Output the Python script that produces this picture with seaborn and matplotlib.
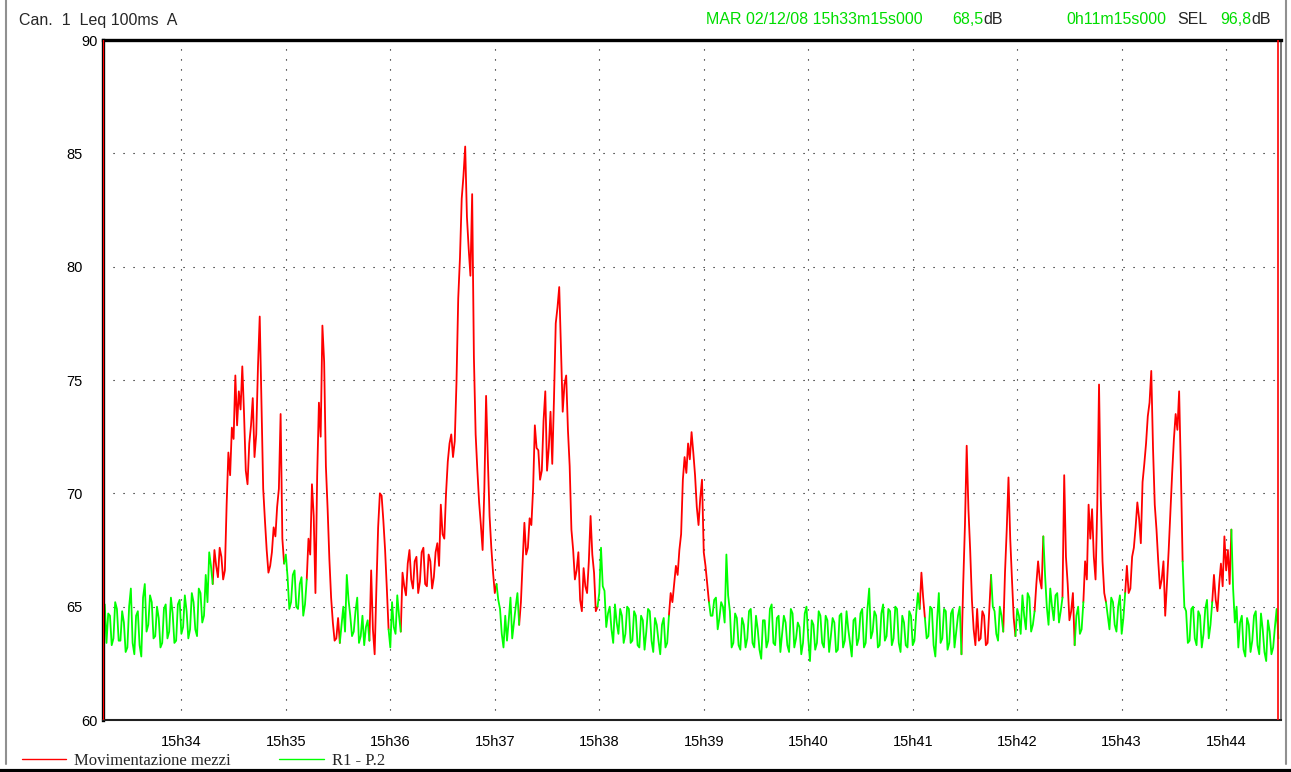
import numpy as np
import pandas as pd
import seaborn as sns
import matplotlib.pyplot as plt
from matplotlib.lines import Line2D
from matplotlib.transforms import ScaledTranslation

# Leq 100ms A in dB, one reading per second.
# lev_HHMM15 holds the even seconds of a minute from HHhMMm15s,
# lev_HHMM16 the odd seconds that fall between them.
lev_3315 = [64.0, 63.4, 64.6, 63.6, 64.9, 63.5, 64.3, 63.2, 65.8, 62.9,
            64.8, 62.8, 66.0, 64.2, 65.2, 63.7, 64.5, 63.4, 65.1, 63.9,
            64.7, 63.5, 65.3, 64.1, 64.8, 64.0, 65.2, 63.7, 65.6, 64.6]
lev_3316 = [65.1, 64.7, 63.3, 65.2, 63.5, 64.8, 63.0, 65.0, 63.4, 64.6,
            63.3, 65.4, 63.9, 65.5, 63.6, 65.0, 63.2, 64.9, 63.6, 65.4,
            63.4, 65.1, 63.8, 65.5, 63.6, 65.6, 64.0, 65.8, 64.3, 66.4]
lev_3415 = [65.2, 66.8, 67.5, 66.3, 67.2, 66.6, 71.8, 72.9, 75.2, 74.5,
            75.6, 71.0, 72.2, 74.2, 72.6, 77.8, 70.2, 67.5, 66.8, 68.5,
            69.4, 73.5, 66.9, 66.3, 65.2, 66.6, 64.9, 66.3, 65.1, 68.0]
lev_3416 = [67.4, 66.0, 66.8, 67.6, 66.2, 69.5, 70.8, 72.4, 73.0, 73.7,
            73.5, 70.4, 73.0, 71.6, 75.6, 74.0, 68.8, 66.5, 67.4, 68.1,
            70.2, 68.0, 67.3, 64.9, 66.4, 65.0, 66.0, 64.6, 66.2, 67.3]
lev_3515 = [70.4, 65.6, 74.0, 77.4, 71.2, 67.1, 64.3, 63.6, 63.4, 65.0,
            66.4, 64.6, 63.9, 65.4, 63.7, 63.3, 64.4, 66.6, 62.9, 68.5,
            69.9, 67.5, 64.0, 65.2, 63.8, 64.6, 66.5, 65.5, 67.5, 65.8]
lev_3516 = [69.0, 70.8, 72.5, 75.8, 69.3, 65.4, 63.5, 64.5, 64.2, 63.9,
            65.3, 63.7, 64.8, 63.4, 64.6, 64.1, 63.5, 64.0, 65.8, 70.0,
            68.8, 65.8, 63.2, 64.1, 65.5, 63.9, 65.9, 66.9, 66.2, 67.0]
lev_3615 = [67.2, 66.1, 67.6, 65.9, 67.0, 66.3, 67.8, 69.5, 68.0, 71.4,
            72.6, 72.3, 78.6, 83.0, 85.3, 80.8, 83.2, 72.6, 69.6, 67.5,
            74.3, 69.0, 66.5, 66.0, 64.9, 63.2, 63.5, 65.4, 64.3, 65.6]
lev_3616 = [65.6, 67.4, 66.0, 67.3, 65.8, 67.4, 66.8, 68.2, 70.0, 72.2,
            71.6, 74.9, 80.4, 84.0, 82.2, 79.6, 76.0, 71.0, 68.6, 70.2,
            71.5, 67.6, 65.6, 65.3, 63.8, 64.6, 64.4, 63.6, 65.0, 64.2]
lev_3715 = [65.2, 68.7, 67.6, 68.6, 73.0, 71.9, 71.0, 74.5, 72.0, 71.3,
            77.5, 79.1, 73.6, 75.2, 71.2, 67.5, 66.6, 65.3, 66.7, 65.6,
            69.0, 66.5, 65.0, 67.6, 65.7, 64.7, 64.0, 65.1, 63.8, 64.6]
lev_3716 = [67.0, 67.3, 68.9, 70.2, 72.0, 70.6, 73.2, 71.0, 73.6, 74.2,
            78.2, 76.4, 74.8, 72.8, 68.4, 66.2, 67.4, 64.8, 65.9, 67.0,
            67.3, 64.8, 65.6, 65.9, 64.1, 65.0, 63.4, 64.3, 64.9, 63.4]
lev_3815 = [63.8, 64.9, 63.5, 64.6, 63.2, 64.4, 63.9, 64.8, 63.0, 64.2,
            62.9, 64.5, 63.4, 65.6, 66.0, 66.4, 68.2, 71.6, 72.2, 72.7,
            70.8, 68.6, 70.6, 66.8, 65.2, 64.6, 65.4, 64.5, 65.0, 67.3]
lev_3816 = [65.0, 63.4, 64.8, 63.3, 64.6, 63.1, 64.9, 63.5, 64.5, 63.5,
            64.2, 63.2, 64.6, 65.2, 66.8, 67.5, 70.6, 70.9, 71.5, 71.8,
            69.4, 69.8, 67.4, 66.0, 64.6, 65.3, 64.0, 65.2, 64.3, 65.5]
lev_3915 = [64.8, 63.4, 64.5, 63.1, 64.2, 63.6, 64.9, 63.2, 64.0, 62.7,
            64.4, 63.5, 65.1, 63.3, 64.6, 63.8, 64.3, 63.0, 64.7, 63.6,
            64.1, 63.4, 65.0, 62.6, 64.2, 63.4, 64.6, 63.2, 64.4, 63.7]
lev_3916 = [63.2, 64.7, 63.3, 64.5, 63.2, 64.8, 63.4, 64.6, 63.1, 64.4,
            63.2, 64.9, 63.4, 64.5, 63.0, 64.6, 63.3, 64.9, 63.2, 64.3,
            62.9, 64.7, 63.6, 64.4, 63.1, 64.8, 63.4, 64.6, 63.0, 64.5]
lev_4015 = [64.3, 63.1, 64.7, 63.5, 64.0, 62.8, 64.5, 63.6, 64.9, 63.4,
            65.8, 63.9, 64.6, 63.3, 65.1, 63.7, 64.8, 63.6, 64.9, 63.0,
            64.3, 63.2, 64.6, 63.5, 65.6, 66.5, 64.5, 63.7, 64.9, 62.8]
lev_4016 = [63.0, 64.6, 63.2, 64.8, 63.4, 64.4, 63.3, 64.7, 63.2, 64.9,
            63.6, 64.8, 63.2, 64.7, 63.5, 64.9, 63.3, 65.0, 63.4, 64.6,
            63.3, 64.8, 63.3, 64.7, 64.9, 65.4, 63.6, 65.0, 63.3, 64.4]
lev_4115 = [65.6, 63.6, 64.8, 63.4, 64.9, 63.9, 65.0, 66.0, 72.1, 67.5,
            64.0, 64.9, 63.6, 64.6, 63.4, 66.4, 64.8, 63.5, 64.6, 66.5,
            70.7, 66.2, 63.7, 64.6, 65.5, 64.0, 65.4, 64.2, 66.0, 66.2]
lev_4116 = [63.4, 64.9, 63.1, 64.7, 63.2, 64.6, 62.9, 68.6, 69.3, 65.3,
            63.3, 63.5, 64.8, 63.3, 64.9, 65.0, 63.8, 65.0, 63.9, 68.4,
            68.0, 64.5, 64.9, 63.8, 64.6, 65.6, 63.9, 64.8, 67.0, 65.8]
lev_4215 = [68.1, 65.0, 65.8, 64.4, 65.6, 64.8, 70.8, 66.0, 64.8, 63.3,
            65.0, 64.0, 67.0, 69.5, 69.3, 66.2, 74.8, 67.0, 65.2, 64.0,
            65.2, 63.9, 65.5, 64.5, 66.8, 65.8, 67.6, 69.6, 67.8, 71.3]
lev_4216 = [66.4, 64.2, 65.0, 65.5, 64.3, 65.4, 67.2, 64.4, 65.6, 64.6,
            63.8, 65.2, 66.2, 68.0, 67.2, 69.5, 69.8, 65.6, 64.6, 65.4,
            64.2, 65.0, 63.8, 65.6, 65.6, 67.2, 68.5, 68.9, 70.5, 72.2]
lev_4315 = [73.4, 75.4, 69.5, 67.0, 66.2, 64.6, 67.5, 70.9, 73.5, 74.5,
            67.0, 64.8, 63.5, 65.0, 63.3, 64.6, 63.8, 65.3, 64.2, 66.4,
            64.8, 66.9, 68.1, 67.5, 68.4, 64.3, 63.2, 64.6, 62.8, 64.2]
lev_4316 = [74.0, 72.0, 68.4, 65.8, 67.0, 66.0, 69.2, 72.4, 72.8, 71.0,
            65.0, 63.4, 64.9, 63.6, 64.8, 63.2, 64.9, 63.6, 65.2, 65.3,
            66.0, 65.9, 66.6, 66.0, 65.8, 65.0, 64.3, 63.1, 64.5, 63.0]
lev_4415 = [63.5, 64.8, 62.9, 64.0, 62.6, 63.9, 63.2, 64.9]
lev_4416 = [64.6, 63.3, 64.7, 63.0, 64.4, 62.9, 64.1, 63.6]

minute_pairs = [(lev_3315, lev_3316), (lev_3415, lev_3416), (lev_3515, lev_3516),
                (lev_3615, lev_3616), (lev_3715, lev_3716), (lev_3815, lev_3816),
                (lev_3915, lev_3916), (lev_4015, lev_4016), (lev_4115, lev_4116),
                (lev_4215, lev_4216), (lev_4315, lev_4316), (lev_4415, lev_4416)]
total_secs = 675  # 0h11m15s

# stretches tagged "Movimentazione mezzi", seconds after 15h33m15s
red_spans = [(63, 105), (117, 137), (153, 165), (171, 227), (239, 285),
             (325, 349), (469, 473), (493, 511), (517, 525), (535, 541),
             (551, 559), (563, 577), (587, 621), (637, 649)]

tick_secs = [45, 105, 165, 225, 285, 345, 405, 465, 525, 585, 645]
tick_names = ["15h34", "15h35", "15h36", "15h37", "15h38", "15h39",
              "15h40", "15h41", "15h42", "15h43", "15h44"]
db_ticks = [60, 65, 70, 75, 80, 85, 90]

SRC_RED = "Movimentazione mezzi"
SRC_GREEN = "R1 - P.2"
RED = "#ff0000"
GREEN = "#00ff00"
TXT_GREEN = "#00dd00"


def build_frame():
    levels = [v for even, odd in minute_pairs for pair in zip(even, odd) for v in pair]
    secs = np.arange(len(levels))
    src = [SRC_RED if any(a < s < b for a, b in red_spans) else SRC_GREEN
           for s in secs]
    rows = []
    seg = 0
    for i, s in enumerate(secs):
        if i > 0 and src[i] != src[i - 1]:
            # start the new colour at the previous reading so the trace stays joined
            seg += 1
            rows.append((secs[i - 1], levels[i - 1], src[i], seg))
        rows.append((s, levels[i], src[i], seg))
    return pd.DataFrame(rows, columns=["sec", "level", "source", "seg"])


df = build_frame()

sns.set_style("white")
plt.rcParams["font.family"] = ["Liberation Sans", "DejaVu Sans"]

W, H = 1291, 772
fig = plt.figure(figsize=(W / 100, H / 100), dpi=100)
ax = fig.add_axes([103 / W, 52 / H, 1178 / W, 680 / H])

sns.lineplot(data=df, x="sec", y="level", hue="source", units="seg",
             estimator=None, sort=False, hue_order=[SRC_RED, SRC_GREEN],
             palette={SRC_RED: RED, SRC_GREEN: GREEN}, lw=1.3, ax=ax)

# cursors at both ends of the record
ax.axvline(0, color=RED, lw=1.6, zorder=5)
ax.axvline(total_secs, color=RED, lw=1.2, zorder=5)

ax.set_xlim(0, total_secs + 1.5)
ax.set_ylim(db_ticks[0], db_ticks[-1])
ax.set_xticks(tick_secs, tick_names)
ax.set_yticks(db_ticks, [str(v) for v in db_ticks])
ax.set_xlabel("")
ax.set_ylabel("")
ax.grid(True, color="black", lw=0.8, linestyle=(0, (1, 8)))
ax.set_axisbelow(True)

ax.tick_params(axis="x", length=3, width=1, color="black", direction="out",
               pad=8, labelsize=10.5, labelcolor="black")
ax.tick_params(axis="y", length=0, pad=4, labelsize=10.5, labelcolor="black")

# middle dB labels sit further from the frame than the end ones
shift = ScaledTranslation(-0.15, 0, fig.dpi_scale_trans)
for tick in ax.yaxis.get_major_ticks()[1:-1]:
    tick.label1.set_transform(tick.label1.get_transform() + shift)

for side in ["top", "left"]:
    ax.spines[side].set_color("black")
    ax.spines[side].set_linewidth(2.4)
ax.spines["bottom"].set_color("#202020")
ax.spines["bottom"].set_linewidth(1.5)
ax.spines["right"].set_color("#606060")
ax.spines["right"].set_linewidth(1.2)

sns.move_legend(ax, "lower left", bbox_to_anchor=(22 / W, 3 / H),
                bbox_transform=fig.transFigure, ncol=2, title="",
                frameon=False, handlelength=2.65, handletextpad=0.5,
                columnspacing=2.9, borderpad=0, borderaxespad=0,
                prop={"family": "Liberation Serif", "size": 12})
for handle in ax.get_legend().get_lines():
    handle.set_linewidth(1.0)

# header line
ty = 1 - 20 / H
hs = 11.5
fig.text(19 / W, ty, "Can.  1  Leq 100ms  A", va="center", fontsize=hs)
fig.text(706 / W, ty, "MAR 02/12/08 15h33m15s000", va="center",
         fontsize=hs, color=TXT_GREEN)
fig.text(952 / W, ty, "68,5", va="center", fontsize=hs, color=TXT_GREEN)
fig.text(983 / W, ty, "dB", va="center", fontsize=hs)
fig.text(1066 / W, ty, "0h11m15s000", va="center", fontsize=hs,
         color=TXT_GREEN)
fig.text(1177 / W, ty, "SEL", va="center", fontsize=hs)
fig.text(1220 / W, ty, "96,8", va="center", fontsize=hs, color=TXT_GREEN)
fig.text(1251 / W, ty, "dB", va="center", fontsize=hs)

# window frame
fig.add_artist(Line2D([6 / W, 6 / W], [8 / H, 1], color="#909090", lw=1.5))
fig.add_artist(Line2D([1286 / W, 1286 / W], [8 / H, 1], color="#909090", lw=1.5))
fig.add_artist(Line2D([0, 1], [1.5 / H, 1.5 / H], color="black", lw=3))

fig.savefig("out.png", dpi=100)
